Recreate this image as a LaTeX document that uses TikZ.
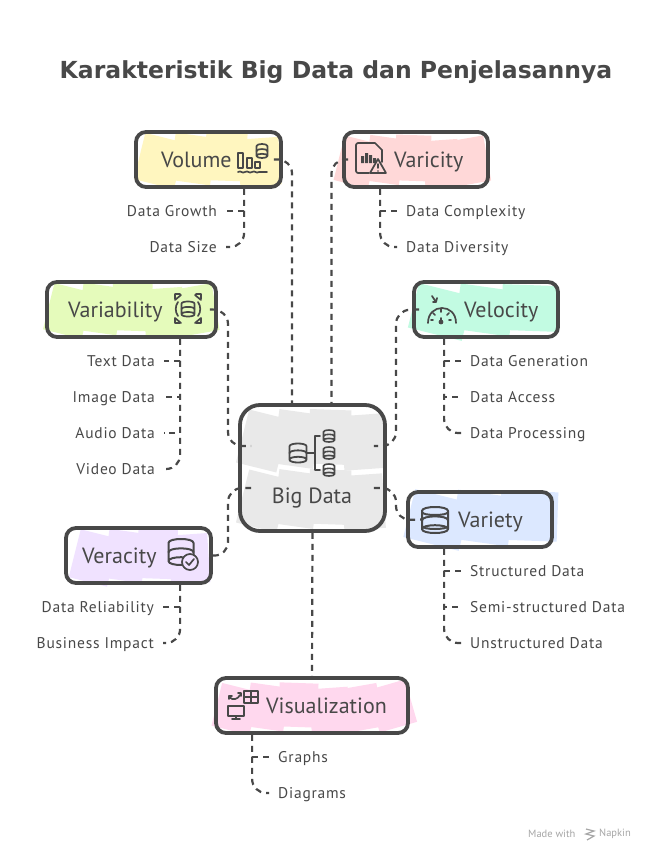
\documentclass[tikz,border=0pt]{standalone}
\usepackage{fontspec}
\setmainfont{PT Sans}
\newfontfamily\kidfont[LetterSpace=5]{PT Sans}
\newfontfamily\titlefont{DejaVu Sans}
\usetikzlibrary{calc}
\definecolor{ink}{HTML}{484848}
\definecolor{wYellow}{HTML}{FFF6BF}
\definecolor{wRed}{HTML}{FFD8D8}
\definecolor{wMint}{HTML}{C2FBE2}
\definecolor{wLime}{HTML}{E5FBBB}
\definecolor{wGray}{HTML}{E9E9E9}
\definecolor{wBlue}{HTML}{DCE8FF}
\definecolor{wPurple}{HTML}{F0E2FF}
\definecolor{wPink}{HTML}{FFD8EE}
\tikzset{
  box/.style={draw=ink,line width=3.8pt,rounded corners=10pt,inner sep=0pt,anchor=center},
  conn/.style={draw=ink,line width=2.2pt,dash pattern=on 6pt off 5pt},
  curved/.style={rounded corners=14pt},
  head/.style={text=ink,font=\fontsize{22}{24}\selectfont,inner sep=0pt,text height=14pt,text depth=2pt},
  kidL/.style={text=ink,font=\kidfont\fontsize{15.5}{17}\selectfont,anchor=east,inner xsep=9pt,inner ysep=1pt,text height=10pt,text depth=0pt},
  kidR/.style={text=ink,font=\kidfont\fontsize{15.5}{17}\selectfont,anchor=west,inner xsep=9pt,inner ysep=1pt,text height=10pt,text depth=0pt},
  icon/.style={draw=ink,line width=1.7pt,line cap=round,line join=round},
}
\newcommand\wash[6]{%
  \pgfmathsetmacro\pw{(#3-#1)/#6}%
  \foreach \i in {1,...,#6}{%
    \pgfmathsetmacro\ang{mod(\i*47,41)-20}%
    \pgfmathsetmacro\cx{#1+\pw*(\i-.5)}%
    \pgfmathsetmacro\cy{(#2+#4)/2+mod(\i*5,7)-3}%
    \pgfmathsetmacro\ha{\pw*.62}%
    \pgfmathsetmacro\hb{(#4-#2)*.44}%
    \begin{scope}[shift={(\cx,\cy)},rotate=\ang]
      \fill[#5] (-\ha,-\hb) rectangle (\ha,\hb);
    \end{scope}%
  }%
}
\newcommand\dbi[5]{%
  \begin{scope}[shift={(#1,#2)},x=#3pt,y=#4pt]
    \draw[icon,line width=#5pt] (-1,-.7) .. controls (-1,-1.1) and (1,-1.1) .. (1,-.7) .. controls (1,-.3) and (-1,-.3) .. (-1,-.7) -- (-1,.7) .. controls (-1,1.1) and (1,1.1) .. (1,.7) -- (1,-.7);
    \draw[icon,line width=#5pt] (-1,-.02) .. controls (-1,.38) and (1,.38) .. (1,-.02);
  \end{scope}%
}
\begin{document}
\begin{tikzpicture}[x=1pt,y=-1pt]
\useasboundingbox (0,0) rectangle (660,862);
\fill[white] (0,0) rectangle (660,862);

% colour washes
\wash{143}{132}{276}{186}{wYellow}{4}
\wash{342}{134}{484}{186}{wRed}{5}
\wash{418}{284}{552}{336}{wMint}{3}
\wash{52}{282}{212}{336}{wLime}{5}
\wash{246}{408}{380}{470}{wGray}{4}
\wash{246}{468}{380}{530}{wGray}{4}
\wash{414}{490}{552}{546}{wBlue}{3}
\wash{78}{528}{205}{584}{wPurple}{4}
\wash{220}{682}{408}{732}{wPink}{6}

% boxes
\node[box,minimum width=145pt,minimum height=55pt] (volume) at (208.5,159.5) {};
\node[box,minimum width=144pt,minimum height=55pt] (varicity) at (416,159.5) {};
\node[box,minimum width=144pt,minimum height=55pt] (velocity) at (486,309.5) {};
\node[box,minimum width=169pt,minimum height=55pt] (variability) at (131.5,309.5) {};
\node[box,rounded corners=20pt,minimum width=145pt,minimum height=126pt] (bigdata) at (312.5,468) {};
\node[box,minimum width=144pt,minimum height=55pt] (variety) at (480,519.5) {};
\node[box,minimum width=145pt,minimum height=55pt] (veracity) at (138.5,555.5) {};
\node[box,minimum width=192pt,minimum height=55pt] (visualization) at (312,705.5) {};

% title and headings
\node[text=ink,font=\titlefont\bfseries\fontsize{23.5}{26}\selectfont,inner sep=0pt] (title) at (336,72) {Karakteristik Big Data dan Penjelasannya};
\node[head,anchor=west] (volumeT) at (161,161) {Volume};
\node[head,anchor=west] (varicityT) at (394,161) {Varicity};
\node[head,anchor=west] (velocityT) at (464,311) {Velocity};
\node[head,anchor=west] (variabilityT) at (68,311) {Variability};
\node[head] (bigdataT) at (312,497) {Big Data};
\node[head,anchor=west] (varietyT) at (458,521) {Variety};
\node[head,anchor=west] (veracityT) at (82,557) {Veracity};
\node[head,anchor=west] (visualizationT) at (266,707) {Visualization};

% child labels
\node[kidL] (growth) at (226,211) {Data Growth};
\node[kidL] (size) at (226,247) {Data Size};
\node[kidR] (complexity) at (397,211) {Data Complexity};
\node[kidR] (diversity) at (397,247) {Data Diversity};
\node[kidR] (generation) at (461,361) {Data Generation};
\node[kidR] (access) at (461,397) {Data Access};
\node[kidR] (processing) at (461,433) {Data Processing};
\node[kidL] (text) at (164,361) {Text Data};
\node[kidL] (image) at (164,397) {Image Data};
\node[kidL] (audio) at (164,433) {Audio Data};
\node[kidL] (video) at (164,469) {Video Data};
\node[kidR] (structured) at (461,571) {Structured Data};
\node[kidR] (semi) at (461,607) {Semi-structured Data};
\node[kidR] (unstructured) at (461,643) {Unstructured Data};
\node[kidL] (reliability) at (163,607) {Data Reliability};
\node[kidL] (impact) at (163,643) {Business Impact};
\node[kidR] (graphs) at (269,757) {Graphs};
\node[kidR] (diagrams) at (269,793) {Diagrams};

% connectors to the hub
\draw[conn,curved] ([xshift=-9pt]volume.east) -| ([xshift=-20.5pt]bigdata.north);
\draw[conn,curved] ([xshift=6pt]varicity.west) -| ([xshift=19pt]bigdata.north);
\draw[conn,curved] ([xshift=-8pt]variability.east) -- (228,310) -- (228,446) -- ([xshift=13pt,yshift=22pt]bigdata.west);
\draw[conn,curved] ([xshift=7pt]velocity.west) -- (396,310) -- (396,446) -- ([xshift=-13pt,yshift=22pt]bigdata.east);
\draw[conn,curved] (veracity.east) -- (228,556) -- (228,488) -- ([xshift=13pt,yshift=-20pt]bigdata.west);
\draw[conn,curved] ([xshift=-13pt,yshift=-20pt]bigdata.east) -- (396,488) -- (396,520) -- ([xshift=17pt]variety.west);
\draw[conn] (bigdata.south) -- (visualization.north);

% connectors to the children
\draw[conn,curved] ([xshift=110pt]volume.south west) |- (size.east);
\draw[conn] ([xshift=110pt]volume.south west) |- (growth.east);
\draw[conn,curved] ([xshift=38pt]varicity.south west) |- (diversity.west);
\draw[conn] ([xshift=38pt]varicity.south west) |- (complexity.west);
\draw[conn,curved] ([xshift=32pt]velocity.south west) |- (processing.west);
\draw[conn] ([xshift=32pt]velocity.south west) |- (generation.west);
\draw[conn] ([xshift=32pt]velocity.south west) |- (access.west);
\draw[conn,curved] ([xshift=135pt]variability.south west) |- (video.east);
\draw[conn] ([xshift=135pt]variability.south west) |- (text.east);
\draw[conn] ([xshift=135pt]variability.south west) |- (image.east);
\draw[conn] ([xshift=135pt]variability.south west) |- (audio.east);
\draw[conn,curved] ([xshift=38pt]variety.south west) |- (unstructured.west);
\draw[conn] ([xshift=38pt]variety.south west) |- (structured.west);
\draw[conn] ([xshift=38pt]variety.south west) |- (semi.west);
\draw[conn,curved] ([xshift=116pt]veracity.south west) |- (impact.east);
\draw[conn] ([xshift=116pt]veracity.south west) |- (reliability.east);
\draw[conn,curved] ([xshift=38pt]visualization.south west) |- (diagrams.west);
\draw[conn] ([xshift=38pt]visualization.south west) |- (graphs.west);

% icons: Volume
\draw[icon] (238,153) rectangle (243,168) (247,158) rectangle (252,168) (255,162) rectangle (260,168);
\draw[icon] (238,172) .. controls (241,170) and (242,174) .. (245,172) .. controls (248,170) and (249,174) .. (252,172) .. controls (255,170) and (256,174) .. (259,172) -- (267,172);
\dbi{262}{151}{5.5}{7}{1.7}
% icons: Varicity
\draw[icon] (382,162) -- (382,150) -- (375,143) -- (358,143) .. controls (357,143) and (356,144) .. (356,145) -- (356,171) .. controls (356,172) and (357,173) .. (358,173) -- (369,173);
\fill[ink] (361,163) rectangle (364,156) (365,163) rectangle (368,153) (369,163) rectangle (372,155) (373,163) rectangle (376,158);
\draw[icon,fill=wRed] (370,173) -- (378,159) -- (386,173) -- cycle;
\draw[icon,line width=1.5pt] (378,164) -- (378,168);
\fill[ink] (378,171) circle (.9);
% icons: Velocity
\draw[icon] (428,323) .. controls (428,303) and (456,303) .. (456,323);
\draw[icon] (441,318) -- (441,322);
\fill[ink] (441,322) circle (2.4);
\draw[icon] (433,313) -- (435,315) (449,313) -- (447,315) (441,309) -- (441,312) (431,320) -- (433,320) (451,320) -- (449,320);
\draw[icon] (432,296) -- (436,302) (433,302) -- (436,302) -- (437,298);
% icons: Variability
\dbi{188}{309}{6.5}{7.5}{1.7}
\draw[icon] (178,302) .. controls (175,306) and (175,312) .. (178,316);
\draw[icon] (198,302) .. controls (201,306) and (201,312) .. (198,316);
\draw[icon] (175,300) -- (181,295) (175,294) -- (180,294) (175,294) -- (175,299);
\draw[icon] (201,300) -- (195,295) (196,294) -- (201,294) (201,294) -- (201,299);
\draw[icon] (175,318) -- (181,323) (175,323) -- (180,323) (175,323) -- (175,318);
\draw[icon] (201,318) -- (195,323) (196,323) -- (201,323) (201,323) -- (201,318);
% icons: Big Data
\dbi{298}{453}{8.5}{9.5}{1.8}
\dbi{329}{436}{5.5}{6}{1.6}
\dbi{329}{453}{5.5}{6}{1.6}
\dbi{329}{470}{5.5}{6}{1.6}
\draw[icon] (320,436) -- (315,436) -- (315,470) -- (320,470) (307,453) -- (315,453);
% icons: Variety
\dbi{435}{520}{13}{13}{2}
\draw[icon,line width=2pt] (422,512) .. controls (422,516) and (448,516) .. (448,512);
\draw[icon,line width=2pt] (422,526) .. controls (422,530) and (448,530) .. (448,526);
% icons: Veracity
\dbi{181}{552}{12.5}{13}{2}
\draw[icon,fill=wPurple] (190,562) circle (8);
\draw[icon] (186,562) -- (189,565) -- (194,559);
% icons: Visualization
\draw[icon] (244,691) rectangle (258,703) (244,697) -- (258,697) (251,691) -- (251,703);
\draw[icon] (228,706) rectangle (244,716) (236,716) -- (236,719) (232,719) -- (240,719);
\draw[icon] (229,697) .. controls (233,701) and (238,699) .. (240,695) (238,693) -- (241,693) -- (241,696);
\draw[icon] (229,699) -- (229,696) -- (232,696);

% credit
\node[text=black!35,font=\fontsize{10.5}{12}\selectfont,anchor=west,inner sep=0pt] (made) at (528,834) {Made with};
\node[text=black!35,font=\fontsize{10.5}{12}\selectfont,anchor=west,inner sep=0pt] (napkin) at (599,834) {Napkin};
\draw[black!35,line width=1.2pt] (586,829) -- (594,831) -- (586,834) -- (594,836) -- (587,840);
\end{tikzpicture}
\end{document}
